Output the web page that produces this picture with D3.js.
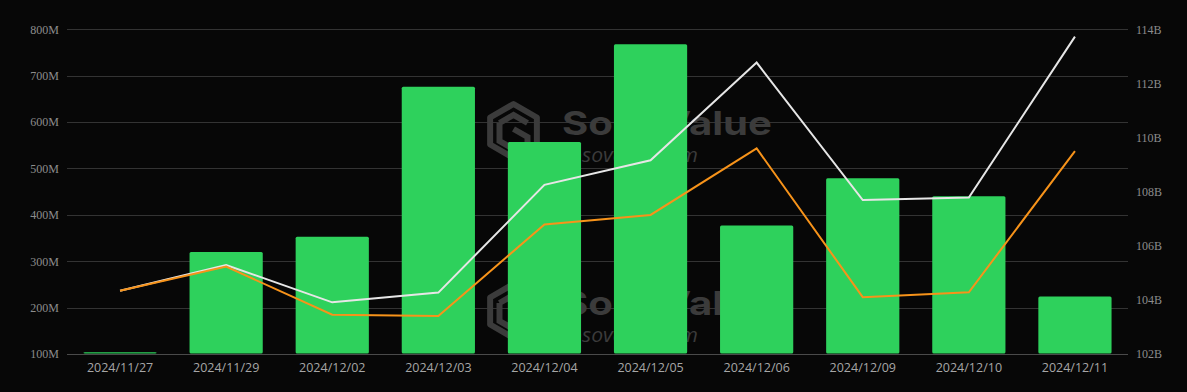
<!DOCTYPE html>
<html>
<head>
<meta charset="utf-8">
<script src="https://cdn.jsdelivr.net/npm/d3@7"></script>
<style>
  html, body { margin: 0; padding: 0; background: #070707; }
  #viz-container { width: 1187px; height: 392px; }
</style>
</head>
<body>
<div id="viz-container"></div>
<script>
let w = 1187;
let h = 392;

// data
let dates = ["2024/11/27", "2024/11/29", "2024/12/02", "2024/12/03", "2024/12/04",
             "2024/12/05", "2024/12/06", "2024/12/09", "2024/12/10", "2024/12/11"];
let netInflow = [104, 320, 353, 676, 557, 768, 377, 479, 440, 224];          // M, bars, left axis
let netAssets = [104.34, 105.29, 103.91, 104.27, 108.25, 109.16, 112.77, 107.69, 107.78, 113.73]; // B, white
let btcLine = [104.34, 105.23, 103.45, 103.40, 106.79, 107.14, 109.60, 104.10, 104.28, 109.50];   // B, orange
let leftTicks = [100, 200, 300, 400, 500, 600, 700, 800];
let rightTicks = [102, 104, 106, 108, 110, 112, 114];

let plotLeft = 67, plotRight = 1128, plotTop = 29.3, plotBottom = 354;

let viz = d3.select("#viz-container")
  .append("svg")
    .attr("width", w)
    .attr("height", h)
    .style("background-color", "#070707")
    .style("display", "block")
;

let x = d3.scaleBand().domain(dates).range([plotLeft, plotRight]).paddingInner(0.31).paddingOuter(0.155);
let yL = d3.scaleLinear().domain([100, 800]).range([plotBottom, plotTop]);
let yR = d3.scaleLinear().domain([102, 114]).range([plotBottom, plotTop]);

// grid
viz.append("g")
  .selectAll("line")
  .data(leftTicks)
  .enter()
  .append("line")
    .attr("x1", plotLeft)
    .attr("x2", plotRight)
    .attr("y1", d => Math.round(yL(d)) + 0.5)
    .attr("y2", d => Math.round(yL(d)) + 0.5)
    .attr("stroke", d => d == 100 ? "#4a4a4a" : "#333")
    .attr("stroke-width", 1)
;

// watermark
function watermark(dy){
  let g = viz.append("g").attr("transform", "translate(0," + dy + ")").attr("fill", "#3b3b3b");
  let cx = 513.5, cy = 131, r = 27;
  let hex = d3.range(6).map(i => {
    let a = Math.PI / 3 * i - Math.PI / 2;
    return [cx + r * Math.cos(a), cy + r * Math.sin(a)];
  });
  g.append("path")
    .attr("d", "M" + hex.join("L") + "Z")
    .attr("fill", "none")
    .attr("stroke", "#3b3b3b")
    .attr("stroke-width", 6)
    .attr("stroke-linejoin", "round");
  g.append("path")
    .attr("d", "M" + (cx - 14) + "," + (cy - 8) + "L" + cx + "," + (cy - 16) + "L" + (cx + 14) + "," + (cy - 8)
      + "M" + (cx - 14) + "," + (cy - 8) + "L" + (cx - 14) + "," + (cy + 10) + "L" + cx + "," + (cy + 18)
      + "M" + cx + "," + (cy - 2) + "L" + (cx + 14) + "," + (cy + 6) + "L" + (cx + 14) + "," + (cy + 12))
    .attr("fill", "none")
    .attr("stroke", "#3b3b3b")
    .attr("stroke-width", 6);
  g.append("text")
    .attr("x", 562)
    .attr("y", 135)
    .attr("font-family", "Inter, 'Noto Sans', sans-serif")
    .attr("font-weight", "bold")
    .attr("font-size", 33)
    .attr("textLength", 210)
    .attr("lengthAdjust", "spacingAndGlyphs")
    .text("SoSoValue");
  g.append("text")
    .attr("x", 561)
    .attr("y", 162)
    .attr("font-family", "'Open Sans', 'Noto Sans', sans-serif")
    .attr("font-style", "italic")
    .attr("font-size", 20)
    .attr("textLength", 137)
    .attr("lengthAdjust", "spacingAndGlyphs")
    .text("sosovalue.com");
}
watermark(0);
watermark(180);

// bars
viz.append("g")
  .selectAll("rect")
  .data(netInflow)
  .enter()
  .append("rect")
    .attr("x", (d, i) => x(dates[i]))
    .attr("y", d => yL(d))
    .attr("width", x.bandwidth())
    .attr("height", d => plotBottom - 0.5 - yL(d))
    .attr("rx", 1.5)
    .attr("fill", "#2ed15c")
;

// lines
let lineR = d3.line()
  .x((d, i) => x(dates[i]) + x.bandwidth() / 2)
  .y(d => yR(d));

viz.append("path")
  .datum(netAssets)
  .attr("d", lineR)
  .attr("fill", "none")
  .attr("stroke", "#e6e6e6")
  .attr("stroke-width", 2);

viz.append("path")
  .datum(btcLine)
  .attr("d", lineR)
  .attr("fill", "none")
  .attr("stroke", "#f7931a")
  .attr("stroke-width", 2);

// left axis
let axL = viz.append("g")
  .attr("transform", "translate(" + (plotLeft - 8) + ",0)")
  .call(d3.axisLeft(yL).tickValues(leftTicks).tickSize(0).tickPadding(0).tickFormat(d => d + "M"));
axL.select(".domain").remove();
axL.selectAll("text")
  .attr("fill", "#8c8c8c")
  .attr("font-family", "'Liberation Serif', 'DejaVu Serif', serif")
  .attr("font-size", 12);

// right axis
let axR = viz.append("g")
  .attr("transform", "translate(" + (plotRight + 8) + ",0)")
  .call(d3.axisRight(yR).tickValues(rightTicks).tickSize(0).tickPadding(0).tickFormat(d => d + "B"));
axR.select(".domain").remove();
axR.selectAll("text")
  .attr("fill", "#8c8c8c")
  .attr("font-family", "'Liberation Serif', 'DejaVu Serif', serif")
  .attr("font-size", 12);

// bottom axis
let axB = viz.append("g")
  .attr("transform", "translate(0," + plotBottom + ")")
  .call(d3.axisBottom(x).tickSize(0).tickPadding(9));
axB.select(".domain").remove();
axB.selectAll("text")
  .attr("fill", "#a6a6a6")
  .attr("font-family", "'Open Sans', 'Noto Sans', sans-serif")
  .attr("font-size", 12.5);
</script>
</body>
</html>
